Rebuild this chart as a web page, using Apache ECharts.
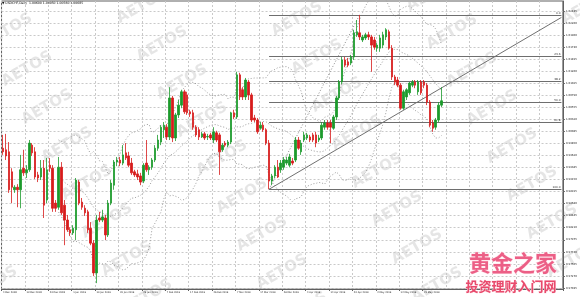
<!DOCTYPE html>
<html><head><meta charset="utf-8">
<script src="https://cdn.jsdelivr.net/npm/echarts@6/dist/echarts.min.js"></script>
<style>html,body{margin:0;padding:0;background:#fff}#c{width:580px;height:297px}</style>
</head><body><div id="c"></div>
<script>
const symbolName = 'USDCHF,Daily';
const dateLabels = ['4 Dec 2018','13 Dec 2018','23 Dec 2018','1 Jan 2019','10 Jan 2019','20 Jan 2019','29 Jan 2019','7 Feb 2019','17 Feb 2019','26 Feb 2019','7 Mar 2019','17 Mar 2019','26 Mar 2019','4 Apr 2019','14 Apr 2019','23 Apr 2019','2 May 2019','12 May 2019','21 May 2019'];
const opens = [0.9976,0.9973,0.9969,0.9930,0.9895,0.9900,0.9895,0.9937,0.9928,0.9934,
0.9982,0.9969,0.9924,0.9920,0.9937,0.9875,0.9943,0.9937,0.9869,0.9861,
0.9939,0.9865,0.9836,0.9817,0.9811,0.9817,0.9910,0.9871,0.9859,0.9852,
0.9820,0.9791,0.9733,0.9840,0.9836,0.9840,0.9807,0.9869,0.9904,0.9949,
0.9953,0.9947,0.9967,0.9961,0.9947,0.9930,0.9926,0.9922,0.9912,0.9947,
0.9934,0.9939,0.9953,0.9976,0.9988,1.0012,1.0017,0.9998,1.0074,0.9996,
1.0041,1.0060,1.0086,1.0080,1.0047,1.0045,1.0017,1.0012,0.9998,1.0004,
0.9998,1.0002,0.9992,1.0006,1.0002,0.9973,0.9986,0.9982,0.9988,1.0045,
1.0037,1.0119,1.0090,1.0076,1.0105,1.0080,1.0035,1.0031,1.0015,1.0021,
1.0012,0.9986,0.9912,0.9922,0.9939,0.9934,0.9939,0.9947,0.9943,0.9951,
0.9953,0.9992,0.9969,0.9992,0.9996,0.9998,1.0002,1.0002,0.9992,0.9996,
1.0017,1.0025,1.0025,1.0015,1.0037,1.0074,1.0105,1.0148,1.0144,1.0142,
1.0154,1.0197,1.0201,1.0187,1.0191,1.0197,1.0193,1.0187,1.0171,1.0171,
1.0177,1.0193,1.0203,1.0171,1.0115,1.0109,1.0099,1.0054,1.0076,1.0084,
1.0099,1.0105,1.0086,1.0105,1.0105,1.0099,1.0066,1.0025,1.0017,1.0031,
1.0060];
const closes = [0.9969,0.9961,0.9895,0.9900,0.9900,0.9895,0.9934,0.9928,0.9934,0.9986,
0.9967,0.9920,0.9918,0.9937,0.9865,0.9934,0.9937,0.9859,0.9859,0.9939,
0.9850,0.9836,0.9817,0.9811,0.9820,0.9914,0.9869,0.9861,0.9850,0.9817,
0.9791,0.9733,0.9836,0.9836,0.9842,0.9807,0.9869,0.9908,0.9949,0.9953,
0.9947,0.9963,0.9957,0.9943,0.9928,0.9924,0.9920,0.9910,0.9943,0.9934,
0.9939,0.9953,0.9976,0.9992,1.0017,1.0021,0.9998,1.0074,0.9996,1.0041,
1.0060,1.0086,1.0047,1.0045,1.0043,1.0017,1.0002,0.9998,1.0004,0.9996,
0.9999,0.9996,1.0008,0.9992,0.9969,0.9982,0.9982,0.9988,1.0045,1.0037,
1.0119,1.0076,1.0076,1.0109,1.0080,1.0031,1.0031,1.0008,1.0021,1.0012,
0.9986,0.9912,0.9922,0.9939,0.9920,0.9947,0.9953,0.9953,0.9959,0.9947,
0.9992,0.9976,0.9986,1.0002,1.0002,0.9992,0.9992,0.9986,0.9996,1.0021,
1.0025,1.0017,1.0017,1.0037,1.0074,1.0105,1.0148,1.0138,1.0138,1.0154,
1.0201,1.0203,1.0193,1.0193,1.0197,1.0193,1.0177,1.0173,1.0177,1.0191,
1.0197,1.0207,1.0171,1.0115,1.0105,1.0099,1.0054,1.0086,1.0090,1.0103,
1.0105,1.0099,1.0105,1.0084,1.0099,1.0066,1.0021,1.0015,1.0031,1.0060,
1.00685];
const highs = [1.0002,1.0004,0.9988,0.9937,0.9904,0.9906,0.9963,0.9973,0.9943,0.9992,
0.9986,0.9978,0.9930,0.9953,0.9953,0.9957,0.9957,0.9943,0.9875,0.9959,
0.9949,0.9875,0.9846,0.9822,0.9826,0.9918,0.9914,0.9879,0.9865,0.9856,
0.9832,0.9797,0.9846,0.9852,0.9856,0.9846,0.9875,0.9914,0.9953,0.9959,
0.9959,0.9982,0.9986,0.9969,0.9957,0.9934,0.9934,0.9928,0.9947,0.9992,
0.9943,0.9957,0.9982,1.0002,1.0021,1.0027,1.0023,1.0095,1.0078,1.0045,
1.0070,1.0090,1.0090,1.0086,1.0051,1.0051,1.0021,1.0017,1.0008,1.0008,
1.0004,1.0006,1.0017,1.0010,1.0006,0.9986,0.9990,0.9992,1.0047,1.0051,
1.0125,1.0123,1.0095,1.0113,1.0109,1.0084,1.0041,1.0035,1.0027,1.0027,
1.0015,0.9992,0.9926,0.9943,0.9953,0.9953,0.9959,0.9959,0.9965,0.9957,
0.9998,0.9998,0.9992,1.0008,1.0006,1.0002,1.0006,1.0008,1.0002,1.0027,
1.0031,1.0031,1.0031,1.0041,1.0078,1.0109,1.0154,1.0154,1.0152,1.0158,
1.0207,1.0226,1.0236,1.0197,1.0201,1.0203,1.0197,1.0193,1.0181,1.0197,
1.0203,1.0210,1.0207,1.0177,1.0119,1.0115,1.0103,1.0090,1.0093,1.0105,
1.0109,1.0109,1.0109,1.0109,1.0109,1.0103,1.0070,1.0031,1.0035,1.0066,
1.0095];
const lows = [0.9963,0.9953,0.9889,0.9869,0.9889,0.9861,0.9859,0.9922,0.9918,0.9930,
0.9961,0.9916,0.9910,0.9914,0.9840,0.9869,0.9930,0.9852,0.9852,0.9856,
0.9846,0.9787,0.9813,0.9805,0.9807,0.9797,0.9865,0.9856,0.9844,0.9811,
0.9787,0.9727,0.9713,0.9832,0.9832,0.9797,0.9803,0.9865,0.9895,0.9941,
0.9941,0.9943,0.9953,0.9939,0.9924,0.9920,0.9914,0.9904,0.9908,0.9930,
0.9924,0.9934,0.9949,0.9971,0.9982,0.9996,0.9992,0.9992,0.9988,0.9990,
1.0035,1.0054,1.0043,1.0041,1.0037,1.0012,0.9998,0.9992,0.9996,0.9992,
0.9992,0.9992,0.9986,0.9988,0.9924,0.9969,0.9978,0.9978,0.9984,1.0033,
1.0033,1.0070,1.0070,1.0070,1.0070,1.0027,1.0027,1.0004,1.0012,1.0008,
0.9982,0.9896,0.9904,0.9918,0.9918,0.9928,0.9934,0.9943,0.9939,0.9943,
0.9949,0.9973,0.9963,0.9988,0.9992,0.9988,0.9988,0.9978,0.9988,0.9992,
1.0012,1.0012,0.9986,1.0012,1.0031,1.0070,1.0101,1.0134,1.0134,1.0138,
1.0148,1.0193,1.0187,1.0183,1.0187,1.0187,1.0125,1.0168,1.0164,1.0164,
1.0171,1.0187,1.0168,1.0109,1.0099,1.0095,1.0051,1.0051,1.0070,1.0080,
1.0095,1.0093,1.0080,1.0080,1.0093,1.0060,1.0017,1.0008,1.0012,1.0027,
1.0056];
const yTickLabels = [1.02435,1.02200,1.01960,1.01730,1.01495,1.01260,1.01025,1.00790,1.00555,1.00320,1.00085,0.99850,0.99620,0.99385,0.99150,0.98915,0.98680,0.98445,0.98210,0.97975,0.97740,0.97505,0.97270,0.97035];
const fibRatios = [0, 23.6, 38.2, 50.0, 61.8, 100.0];
const fibAnchors = [[91, 0.9896], [122, 1.0236]];
const trendLine = [[91, 0.9896], [191, 1.0231]];
const slotCount = 192;
const bbPeriod = 20, bbDev = 2;

const slots = [];
for (let i = 0; i < slotCount; i++) slots.push(String(i));
const candles = opens.map((o, i) => [o, closes[i], lows[i], highs[i]]);

// Bollinger Bands (20, 2) derived from the closes, as the indicator on the chart
const bbUp = [], bbMid = [], bbLow = [];
for (let i = 0; i < closes.length; i++) {
  if (i < bbPeriod - 1) { bbUp.push('-'); bbMid.push('-'); bbLow.push('-'); continue; }
  const w = closes.slice(i - bbPeriod + 1, i + 1);
  const m = w.reduce((a, b) => a + b, 0) / w.length;
  const sd = Math.sqrt(w.reduce((a, b) => a + (b - m) * (b - m), 0) / w.length);
  bbMid.push(m); bbUp.push(m + bbDev * sd); bbLow.push(m - bbDev * sd);
}

const fibHigh = fibAnchors[1][1], fibLow = fibAnchors[0][1];
const fibMarks = fibRatios.map(r => {
  const v = fibHigh - r / 100 * (fibHigh - fibLow);
  return [{ coord: [fibAnchors[0][0], v], label: { show: true, formatter: r.toFixed(1) } },
          { coord: [slotCount - 1, v] }];
});

const last = opens.length - 1;
const fmt = v => v.toFixed(5);
const headerText = '\u25BC ' + symbolName + '  ' + fmt(opens[last]) + ' ' + fmt(highs[last]) + ' ' + fmt(lows[last]) + ' ' + fmt(closes[last]);

const graphics = [];
for (let a = -4; a <= 9; a++) {
  for (let b = -1; b <= 4; b++) {
    const x = 47 + a * 20 + b * 135, y = 107 + a * 38 - b * 25;
    if (x < -40 || x > 620 || y < -30 || y > 330) continue;
    graphics.push({ type: 'text', x: x, y: y, rotation: Math.PI / 6, z: 0, silent: true,
      style: { text: 'AETOS', fontSize: 15, fontWeight: 'bold', fontFamily: 'DejaVu Sans',
        fill: 'rgba(175,175,175,0.33)', textAlign: 'center', textVerticalAlign: 'middle' } });
  }
}
graphics.push({ type: 'text', left: 2, top: 2, z: 50, silent: true,
  style: { text: headerText, fontSize: 3.1, fill: '#111', fontFamily: 'DejaVu Sans' } });
graphics.push({ type: 'text', x: 513, y: 263, z: 100, silent: true,
  style: { text: '黄金之家', fontSize: 22, fontWeight: 'bold', fontFamily: 'Noto Sans CJK SC',
    fill: '#ec5f86', stroke: '#ffe3ea', lineWidth: 1, textAlign: 'center', textVerticalAlign: 'middle' } });
graphics.push({ type: 'text', x: 511, y: 286, z: 100, silent: true,
  style: { text: '投资理财入门网', fontSize: 13, fontWeight: 'bold', fontFamily: 'Noto Sans CJK SC',
    fill: '#e84a6c', stroke: '#ffe3ea', lineWidth: 0.8, textAlign: 'center', textVerticalAlign: 'middle' } });

const gridLine = { show: true, lineStyle: { color: '#c9c9c9', type: [2, 2], width: 1 } };
const every8 = i => i % 8 === 0;

const chart = echarts.init(document.getElementById('c'), null, { renderer: 'canvas' });
chart.setOption({
  animation: false,
  backgroundColor: '#ffffff',
  grid: { left: 0, right: 17, top: 1, bottom: 8, show: true, borderColor: '#606060', borderWidth: 1 },
  xAxis: {
    type: 'category', data: slots, boundaryGap: true,
    axisLine: { show: true, lineStyle: { color: '#606060' } },
    axisTick: { show: true, length: 2, interval: i => every8(i) && i <= 144, lineStyle: { color: '#606060' } },
    axisLabel: { interval: every8, formatter: (v, i) => dateLabels[Number(v) / 8] || '', fontSize: 2.4,
      align: 'left', margin: 2.5, color: '#222', fontFamily: 'DejaVu Sans' },
    splitLine: Object.assign({ interval: every8 }, gridLine)
  },
  yAxis: {
    type: 'value', position: 'right', min: 0.97016, max: 1.02630,
    axisLine: { show: true, lineStyle: { color: '#606060' } },
    axisTick: { show: true, length: 2, customValues: yTickLabels, lineStyle: { color: '#606060' } },
    axisLabel: { customValues: yTickLabels, formatter: v => v.toFixed(5), fontSize: 2.7, margin: 3,
      color: '#222', fontFamily: 'DejaVu Sans' },
    splitLine: gridLine
  },
  graphic: graphics,
  series: [
    { type: 'line', name: 'BB upper', data: bbUp, symbol: 'none', silent: true, z: 3,
      lineStyle: { color: '#9c9c9c', width: 1, type: [1, 2] } },
    { type: 'line', name: 'BB middle', data: bbMid, symbol: 'none', silent: true, z: 3,
      lineStyle: { color: '#9c9c9c', width: 1, type: [1, 2] } },
    { type: 'line', name: 'BB lower', data: bbLow, symbol: 'none', silent: true, z: 3,
      lineStyle: { color: '#9c9c9c', width: 1, type: [1, 2] } },
    { type: 'line', name: 'trend', data: trendLine, symbol: 'none', silent: true, z: 4,
      lineStyle: { color: '#707070', width: 1 } },
    { type: 'line', name: 'fib anchor', data: fibAnchors, symbol: 'none', silent: true, z: 4,
      lineStyle: { color: '#8a8a8a', width: 1, type: [1, 2] },
      markLine: { symbol: 'none', silent: true, animation: false,
        lineStyle: { color: '#6e6e6e', width: 1, type: 'solid' },
        label: { position: 'insideEndTop', fontSize: 2.8, color: '#333', distance: [1, 0.5], fontFamily: 'DejaVu Sans' },
        data: fibMarks } },
    { type: 'candlestick', name: symbolName, data: candles, barWidth: 2, z: 5,
      itemStyle: { color: '#1c9a2c', color0: '#d71c1c', borderColor: '#1c9a2c', borderColor0: '#d71c1c', borderWidth: 0.8 },
      markLine: { symbol: 'none', silent: true, animation: false,
        lineStyle: { opacity: 0 },
        label: { position: 'end', formatter: fmt(closes[last]), backgroundColor: '#000', color: '#fff',
          fontSize: 2.8, padding: [0.8, 1.5], distance: 2, fontFamily: 'DejaVu Sans' },
        data: [{ yAxis: closes[last] }] } }
  ]
});
</script></body></html>
